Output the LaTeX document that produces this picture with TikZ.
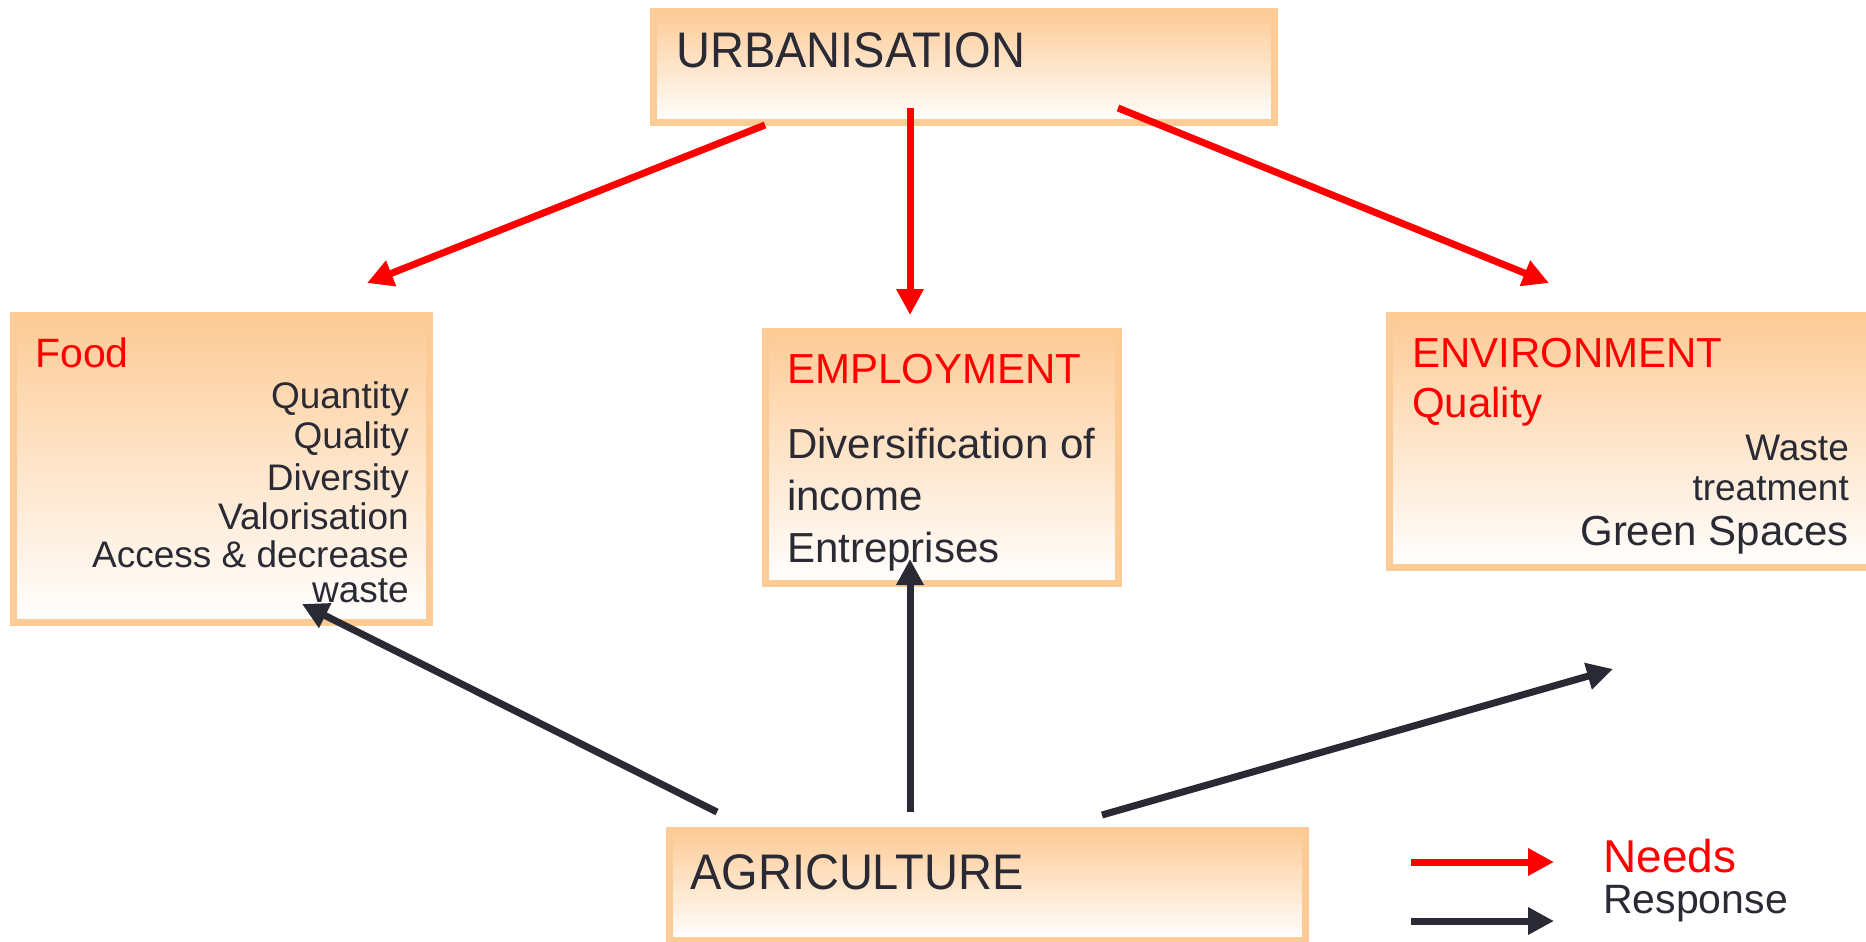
\documentclass[tikz,border=0pt]{standalone}
\usepackage{fontspec}
\setmainfont{Liberation Sans}
\newfontfamily\narrowfont[FakeStretch=0.94]{Liberation Sans}
\usetikzlibrary{arrows.meta}
\definecolor{peach}{HTML}{FDCB96}
\definecolor{ink}{HTML}{2A2A35}
\newcommand*{\fsize}[1]{\fontsize{#1}{#1}\selectfont}

\begin{document}
\begin{tikzpicture}[x=1pt, y=-1pt,
    box/.style={rectangle, draw=peach, line width=7pt, top color=peach, bottom color=white, inner sep=0pt},
    need/.style={red, line width=7pt, -{Triangle[length=26pt,width=26pt]}},
    resp/.style={ink, line width=7pt, -{Triangle[length=26pt,width=26pt]}},
    lt/.style={anchor=base west, inner sep=0pt, text=ink},
    rt/.style={anchor=base east, inner sep=0pt, text=ink}]
  \useasboundingbox (0,0) rectangle (1866,942);
  \clip (0,0) rectangle (1866,942);

  % boxes
  \node[box, minimum width=621pt, minimum height=111pt] (urb) at (964,67) {};
  \node[box, minimum width=416pt, minimum height=307pt] (food) at (221.5,469) {};
  \node[box, minimum width=353pt, minimum height=252pt] (empl) at (942,457.5) {};
  \node[box, minimum width=490pt, minimum height=252pt] (env) at (1634.5,441.5) {};
  \node[box, minimum width=636pt, minimum height=110pt] (agri) at (987.5,885.5) {};

  % titles
  \node[lt, font=\narrowfont\fsize{50}] (urbT) at (676,68) {URBANISATION};
  \node[lt, font=\narrowfont\fsize{50}] (agriT) at (690,889) {AGRICULTURE};
  \node[lt, text=red, font=\fsize{41}] (foodT) at (35,367) {Food};
  \node[lt, text=red, font=\fsize{42}] (emplT) at (787,383) {EMPLOYMENT};
  \node[lt, text=red, font=\fsize{42}] (envT) at (1412,367) {ENVIRONMENT};
  \node[lt, text=red, font=\fsize{42}] (envQ) at (1412,417) {Quality};

  % contents
  \foreach \txt/\y [count=\i] in {Quantity/408, Quality/448, Diversity/490,
      Valorisation/529, Access \& decrease/567}
  {
    \node[rt, font=\fsize{37}] (food\i) at (409,\y) {\txt};
  }
  \node[rt, font=\fsize{37}, text height=0.5em] (food6) at (409,602) {waste};
  \foreach \txt/\y [count=\i] in {Diversification of/458, income/510, Entreprises/562}
  {
    \node[lt, font=\fsize{42}] (empl\i) at (787,\y) {\txt};
  }
  \node[rt, font=\fsize{37}] (env1) at (1849,460) {Waste};
  \node[rt, font=\fsize{37}] (env2) at (1849,500) {treatment};
  \node[rt, font=\fsize{42}] (env3) at (1849,545) {Green Spaces};

  % legend
  \node[lt, text=red, font=\fsize{46}] (needs) at (1603,872) {Needs};
  \node[lt, font=\fsize{41}] (response) at (1603,913) {Response};

  % arrow ends
  \coordinate (uL) at (765,125);
  \coordinate (uM) at (910,108);
  \coordinate (uR) at (1118,108);
  \coordinate (fIn) at (367,283);
  \coordinate (eIn) at (910,315);
  \coordinate (nIn) at (1549,283);
  \coordinate (aL) at (717,812);
  \coordinate (aM) at (910,812);
  \coordinate (aR) at (1102,815);
  \coordinate (fOut) at (302,604);
  \coordinate (eOut) at (910,559);
  \coordinate (nOut) at (1613,669);
  \coordinate (lg1) at (1411,862);
  \coordinate (lg2) at (1554,862);
  \coordinate (lg3) at (1411,921);
  \coordinate (lg4) at (1554,921);

  \draw[need] (uL) -- (fIn);
  \draw[need] (uM) -- (eIn);
  \draw[need] (uR) -- (nIn);
  \draw[resp] (aL) -- (fOut);
  \draw[resp] (aM) -- (eOut);
  \draw[resp] (aR) -- (nOut);
  \draw[need] (lg1) -- (lg2);
  \draw[resp] (lg3) -- (lg4);
\end{tikzpicture}
\end{document}
